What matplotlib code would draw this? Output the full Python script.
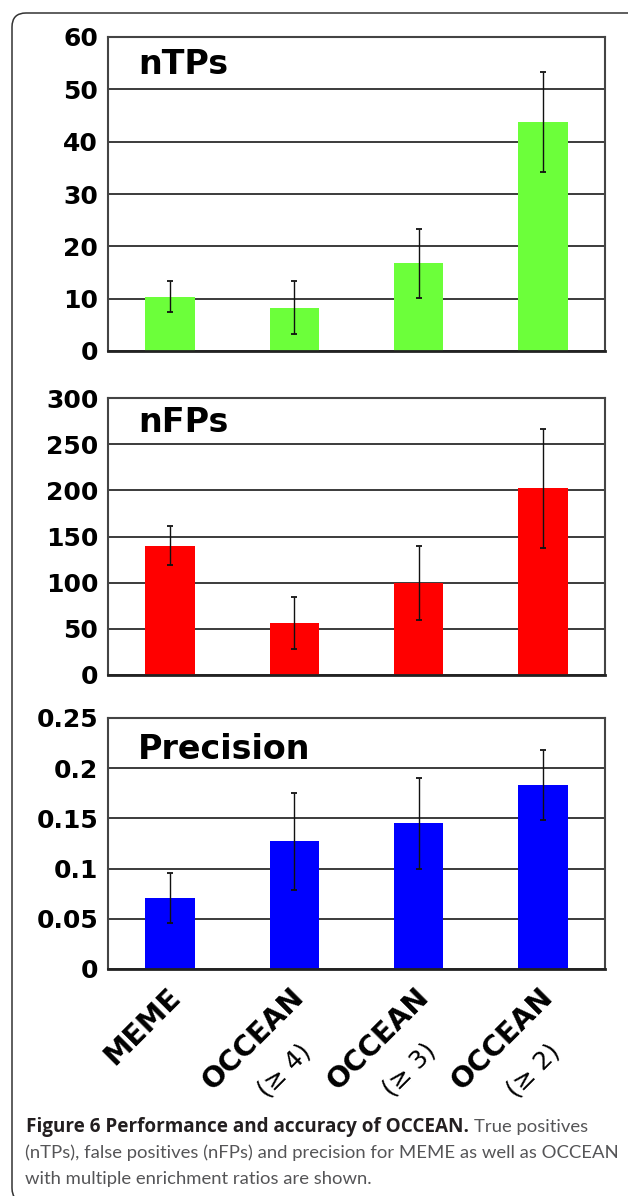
import matplotlib
matplotlib.use("Agg")
import matplotlib.pyplot as plt
import matplotlib.patches as mpatches
import matplotlib.transforms as mtransforms
from matplotlib.ticker import FormatStrFormatter, MultipleLocator

# data
methods = ["MEME", "OCCEAN", "OCCEAN", "OCCEAN"]
ratios = ["", "(≥ 4)", "(≥ 3)", "(≥ 2)"]

ntp_mean = [10.4, 8.3, 16.8, 43.8]
ntp_err = [3.0, 5.0, 6.6, 9.6]

nfp_mean = [140, 56, 100, 202]
nfp_err = [21, 28, 40, 64]

prec_mean = [0.071, 0.127, 0.145, 0.183]
prec_err = [0.025, 0.048, 0.045, 0.035]

caption_bold = "Figure 6 Performance and accuracy of OCCEAN."
caption_lines = ["True positives",
                 "(nTPs), false positives (nFPs) and precision for MEME as well as OCCEAN",
                 "with multiple enrichment ratios are shown."]

plt.rcParams["font.family"] = ["DejaVu Sans"]

W, H = 628, 1196
fig = plt.figure(figsize=(W / 100, H / 100), dpi=100)


def px_rect(top, bottom, left=108, right=605):
    return [left / W, 1 - bottom / H, (right - left) / W, (bottom - top) / H]


def draw_panel(rect, title, title_y, values, errors, color, ymax, step):
    ax = fig.add_axes(rect)
    x = range(len(values))
    ax.bar(x, values, width=0.4, color=color, zorder=2)
    ax.errorbar(x, values, yerr=errors, fmt="none", ecolor="#111111",
                elinewidth=1.0, capsize=2.5, capthick=1.3, zorder=3)
    ax.set_xlim(-0.5, len(values) - 0.5)
    ax.set_ylim(0, ymax)
    ax.yaxis.set_major_locator(MultipleLocator(step))
    ax.yaxis.set_major_formatter(FormatStrFormatter("%g"))
    ax.set_axisbelow(True)
    ax.grid(axis="y", color="#1a1a1a", linewidth=1.2)
    ax.set_xticks([])
    ax.tick_params(axis="y", length=0, pad=7, labelsize=18)
    for lab in ax.get_yticklabels():
        lab.set_fontweight("bold")
    for side in ["top", "right", "left"]:
        ax.spines[side].set_color("#444444")
        ax.spines[side].set_linewidth(1.5)
    ax.spines["bottom"].set_color("#222222")
    ax.spines["bottom"].set_linewidth(2.0)
    ax.text(0.06, title_y, title, transform=ax.transAxes, fontsize=24,
            fontweight="bold", va="baseline", ha="left")
    return ax


draw_panel(px_rect(37, 351), "nTPs", 0.882, ntp_mean, ntp_err, "#6cff3a", 60, 10)
draw_panel(px_rect(398, 675), "nFPs", 0.877, nfp_mean, nfp_err, "#ff0000", 300, 50)
ax3 = draw_panel(px_rect(718, 969), "Precision", 0.837, prec_mean, prec_err, "#0000ff", 0.25, 0.05)

# rotated category labels under the last panel (bold name, plain ratio below)
shift = mtransforms.ScaledTranslation(-0.04, -0.14, fig.dpi_scale_trans)
name_texts = []
for i, name in enumerate(methods):
    t = ax3.text(i, 0, name, transform=ax3.get_xaxis_transform() + shift,
                 rotation=45, rotation_mode="anchor", ha="right", va="top",
                 fontsize=20.5, fontweight="bold")
    name_texts.append(t)

# caption, bold lead-in first
cap_size = 13.3
t1 = fig.text(26 / W, 1 - 1132 / H, caption_bold, fontsize=cap_size, fontweight="bold",
              color="#231f20", family=["Open Sans", "DejaVu Sans"], va="baseline")

fig.canvas.draw()
renderer = fig.canvas.get_renderer()

for t, sub in zip(name_texts, ratios):
    if not sub:
        continue
    bb = t.get_window_extent(renderer)
    cx, cy = (bb.x0 + bb.x1) / 2, (bb.y0 + bb.y1) / 2
    fig.text(cx + 31, cy - 31, sub, transform=mtransforms.IdentityTransform(),
             rotation=45, rotation_mode="anchor", ha="center", va="center",
             fontsize=18)

# stretch the bold lead-in to the width it has in the figure
bb = t1.get_window_extent(renderer)
t1.set_fontsize(cap_size * (471 - 26) / bb.width)
bb = t1.get_window_extent(renderer)

cap_font = ["Lato", "DejaVu Sans"]
fig.text((bb.x1 + 5) / W, 1 - 1132 / H, caption_lines[0], fontsize=cap_size,
         color="#555557", family=cap_font, va="baseline")
fig.text(25 / W, 1 - 1158 / H, caption_lines[1], fontsize=cap_size, color="#555557",
         family=cap_font, va="baseline")
fig.text(25 / W, 1 - 1184 / H, caption_lines[2], fontsize=cap_size, color="#555557",
         family=cap_font, va="baseline")

# rounded frame around the figure
frame = mpatches.FancyBboxPatch((12, -6), 640, H - 13 + 6,
                                boxstyle="round,pad=0,rounding_size=14",
                                transform=mtransforms.IdentityTransform(),
                                fill=False, edgecolor="#333333", linewidth=1.1)
fig.add_artist(frame)

fig.savefig("out.png", dpi=100)
